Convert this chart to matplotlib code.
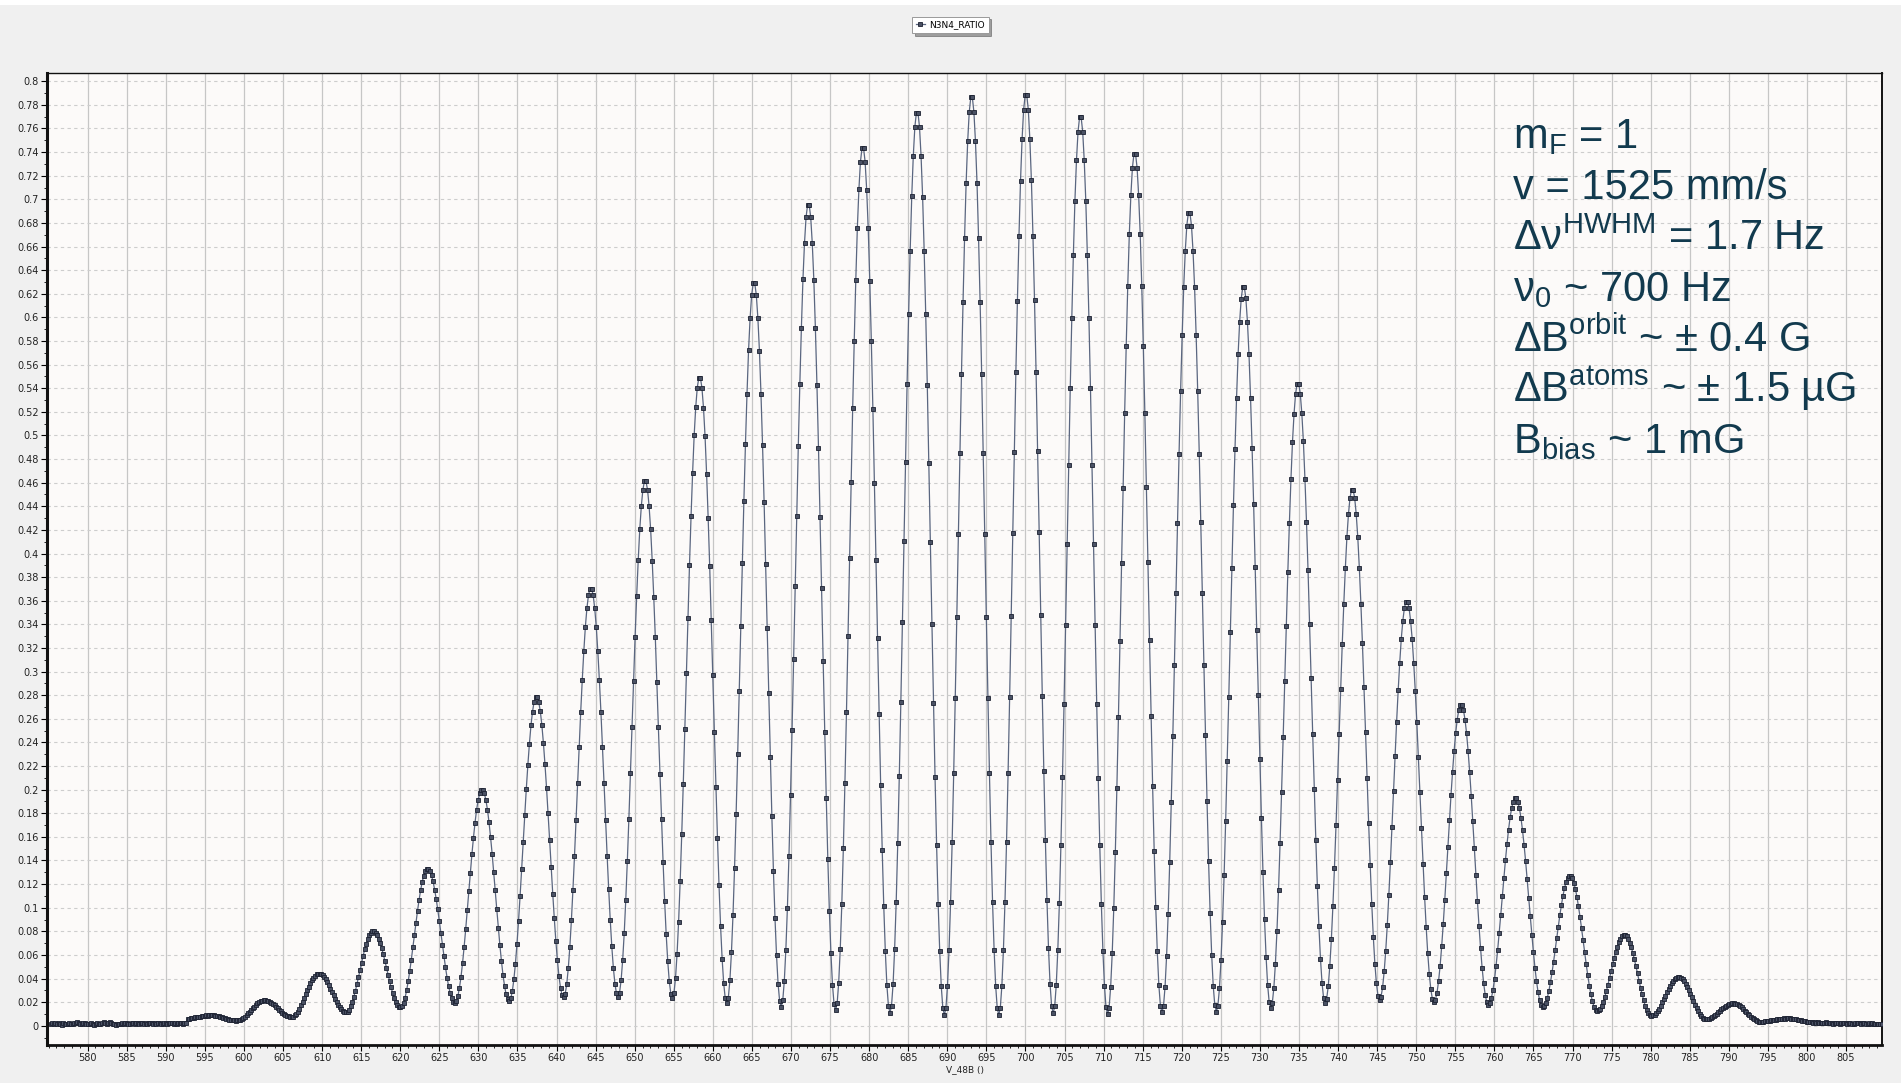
import numpy as np
import matplotlib
matplotlib.use("Agg")
import matplotlib.pyplot as plt
from matplotlib.ticker import MultipleLocator, FixedLocator, FuncFormatter
from matplotlib.patches import Rectangle

# --------- DATOS ---------
# barrido uniforme en frecuencia (Hz)
scan_start = 575.28
scan_step = 0.19886

# linea base antes de las franjas (575 - 592.7 Hz)
ratio_left_tail = [
    0.0018, 0.0022, 0.0012, 0.0020, 0.0015, 0.0024, 0.0017, 0.0010, 0.0021, 0.0016,
    0.0013, 0.0019, 0.0023, 0.0014, 0.0011, 0.0020, 0.0026, 0.0030, 0.0022, 0.0018,
    0.0015, 0.0020, 0.0024, 0.0017, 0.0012, 0.0016, 0.0021, 0.0014, 0.0010, 0.0018,
    0.0023, 0.0019, 0.0013, 0.0022, 0.0028, 0.0020, 0.0016, 0.0024, 0.0031, 0.0025,
    0.0018, 0.0012, 0.0007, 0.0013, 0.0019, 0.0015, 0.0020, 0.0017, 0.0022, 0.0026,
    0.0019, 0.0014, 0.0021, 0.0024, 0.0018, 0.0023, 0.0020, 0.0016, 0.0025, 0.0021,
    0.0017, 0.0022, 0.0019, 0.0024, 0.0027, 0.0020, 0.0015, 0.0021, 0.0018, 0.0023,
    0.0026, 0.0019, 0.0016, 0.0022, 0.0025, 0.0018, 0.0021, 0.0024, 0.0020, 0.0017,
    0.0023, 0.0019, 0.0022, 0.0026, 0.0021, 0.0018, 0.0024, 0.0022,
]

# una fila por franja (de minimo a minimo)
ratio_fringes = [
    [0.0055, 0.0058, 0.0062, 0.0066, 0.0064, 0.0070, 0.0074, 0.0072, 0.0078, 0.0082, 0.0080, 0.0086, 0.0088, 0.0085, 0.0090,
     0.0091, 0.0087, 0.0089, 0.0084, 0.0083, 0.0081, 0.0075, 0.0073, 0.0068, 0.0065, 0.0060, 0.0058, 0.0052, 0.0051, 0.0047, 0.0046, 0.0044],
    [0.0045, 0.0046, 0.0050, 0.0057, 0.0066, 0.0077, 0.0090, 0.0104, 0.0119, 0.0134, 0.0149, 0.0163, 0.0177, 0.0189, 0.0199, 0.0207, 0.0212, 0.0215,
     0.0215, 0.0212, 0.0208, 0.0202, 0.0193, 0.0184, 0.0173, 0.0161, 0.0148, 0.0136, 0.0123, 0.0112, 0.0101, 0.0092, 0.0085, 0.0079, 0.0076],
    [0.0075, 0.0078, 0.0087, 0.0101, 0.0120, 0.0144, 0.0172, 0.0202, 0.0234, 0.0267, 0.0300, 0.0331, 0.0360, 0.0386, 0.0408, 0.0425, 0.0436, 0.0442,
     0.0442, 0.0437, 0.0427, 0.0412, 0.0392, 0.0369, 0.0344, 0.0315, 0.0287, 0.0257, 0.0228, 0.0201, 0.0177, 0.0155, 0.0138, 0.0125, 0.0118],
    [0.0115, 0.0120, 0.0137, 0.0164, 0.0199, 0.0244, 0.0295, 0.0351, 0.0412, 0.0473, 0.0534, 0.0592, 0.0646, 0.0694, 0.0735, 0.0766, 0.0788, 0.0799,
     0.0799, 0.0788, 0.0768, 0.0739, 0.0700, 0.0655, 0.0605, 0.0549, 0.0492, 0.0434, 0.0378, 0.0325, 0.0276, 0.0234, 0.0201, 0.0176, 0.0160],
    [0.0155, 0.0164, 0.0193, 0.0238, 0.0300, 0.0376, 0.0464, 0.0560, 0.0664, 0.0770, 0.0873, 0.0974, 0.1066, 0.1148, 0.1218, 0.1271, 0.1309, 0.1328,
     0.1328, 0.1310, 0.1273, 0.1222, 0.1154, 0.1075, 0.0986, 0.0888, 0.0789, 0.0686, 0.0587, 0.0494, 0.0408, 0.0335, 0.0276, 0.0231, 0.0204],
    [0.0195, 0.0209, 0.0253, 0.0323, 0.0417, 0.0534, 0.0670, 0.0818, 0.0977, 0.1139, 0.1298, 0.1453, 0.1594, 0.1720, 0.1829, 0.1910, 0.1968, 0.1996,
     0.1996, 0.1968, 0.1911, 0.1830, 0.1723, 0.1597, 0.1458, 0.1304, 0.1146, 0.0985, 0.0828, 0.0681, 0.0547, 0.0430, 0.0337, 0.0267, 0.0224],
    [0.0210, 0.0231, 0.0293, 0.0393, 0.0527, 0.0695, 0.0889, 0.1100, 0.1327, 0.1559, 0.1786, 0.2008, 0.2210, 0.2390, 0.2545, 0.2661, 0.2744, 0.2785,
     0.2785, 0.2744, 0.2663, 0.2548, 0.2395, 0.2216, 0.2017, 0.1798, 0.1574, 0.1344, 0.1120, 0.0911, 0.0719, 0.0554, 0.0421, 0.0322, 0.0260],
    [0.0240, 0.0268, 0.0351, 0.0486, 0.0667, 0.0892, 0.1153, 0.1437, 0.1743, 0.2055, 0.2360, 0.2659, 0.2929, 0.3172, 0.3380, 0.3537, 0.3648, 0.3703,
     0.3703, 0.3648, 0.3537, 0.3381, 0.3173, 0.2931, 0.2660, 0.2363, 0.2058, 0.1746, 0.1441, 0.1157, 0.0897, 0.0672, 0.0492, 0.0357, 0.0274],
    [0.0246, 0.0281, 0.0386, 0.0557, 0.0784, 0.1068, 0.1396, 0.1755, 0.2140, 0.2534, 0.2919, 0.3295, 0.3636, 0.3942, 0.4204, 0.4401, 0.4541, 0.4611,
     0.4611, 0.4541, 0.4401, 0.4204, 0.3940, 0.3633, 0.3291, 0.2914, 0.2528, 0.2134, 0.1748, 0.1388, 0.1059, 0.0774, 0.0546, 0.0375, 0.0270],
    [0.0235, 0.0277, 0.0403, 0.0609, 0.0883, 0.1225, 0.1620, 0.2051, 0.2515, 0.2989, 0.3452, 0.3905, 0.4315, 0.4684, 0.5000, 0.5237, 0.5405, 0.5489,
     0.5489, 0.5404, 0.5235, 0.4996, 0.4677, 0.4305, 0.3891, 0.3434, 0.2967, 0.2489, 0.2022, 0.1587, 0.1188, 0.0843, 0.0567, 0.0360, 0.0232],
    [0.0190, 0.0239, 0.0386, 0.0624, 0.0942, 0.1339, 0.1797, 0.2298, 0.2836, 0.3386, 0.3923, 0.4449, 0.4925, 0.5353, 0.5720, 0.5995, 0.6190, 0.6288,
     0.6288, 0.6189, 0.5993, 0.5717, 0.5348, 0.4919, 0.4440, 0.3912, 0.3371, 0.2819, 0.2278, 0.1775, 0.1314, 0.0915, 0.0596, 0.0356, 0.0209],
    [0.0160, 0.0214, 0.0378, 0.0644, 0.0998, 0.1440, 0.1951, 0.2509, 0.3109, 0.3722, 0.4321, 0.4907, 0.5438, 0.5914, 0.6323, 0.6630, 0.6847, 0.6956,
     0.6956, 0.6847, 0.6628, 0.6320, 0.5910, 0.5431, 0.4897, 0.4309, 0.3707, 0.3092, 0.2490, 0.1929, 0.1416, 0.0971, 0.0616, 0.0349, 0.0185],
    [0.0130, 0.0189, 0.0364, 0.0650, 0.1030, 0.1506, 0.2055, 0.2655, 0.3300, 0.3958, 0.4603, 0.5232, 0.5803, 0.6315, 0.6755, 0.7084, 0.7318, 0.7435,
     0.7435, 0.7318, 0.7083, 0.6753, 0.6312, 0.5799, 0.5226, 0.4595, 0.3949, 0.3288, 0.2642, 0.2040, 0.1490, 0.1013, 0.0631, 0.0345, 0.0169],
    [0.0110, 0.0171, 0.0354, 0.0652, 0.1050, 0.1546, 0.2119, 0.2746, 0.3418, 0.4106, 0.4778, 0.5435, 0.6031, 0.6566, 0.7024, 0.7368, 0.7612, 0.7735,
     0.7735, 0.7612, 0.7367, 0.7022, 0.6563, 0.6027, 0.5429, 0.4770, 0.4096, 0.3407, 0.2733, 0.2105, 0.1530, 0.1032, 0.0634, 0.0335, 0.0151],
    [0.0090, 0.0152, 0.0339, 0.0643, 0.1048, 0.1555, 0.2139, 0.2778, 0.3463, 0.4164, 0.4850, 0.5520, 0.6127, 0.6673, 0.7140, 0.7491, 0.7740, 0.7864,
     0.7864, 0.7740, 0.7491, 0.7140, 0.6673, 0.6127, 0.5520, 0.4850, 0.4164, 0.3463, 0.2778, 0.2139, 0.1555, 0.1048, 0.0643, 0.0339, 0.0152],
    [0.0090, 0.0152, 0.0340, 0.0645, 0.1051, 0.1558, 0.2144, 0.2784, 0.3472, 0.4175, 0.4862, 0.5534, 0.6143, 0.6689, 0.7158, 0.7510, 0.7759, 0.7884,
     0.7884, 0.7760, 0.7510, 0.7160, 0.6692, 0.6146, 0.5538, 0.4868, 0.4182, 0.3480, 0.2794, 0.2155, 0.1570, 0.1064, 0.0658, 0.0354, 0.0167],
    [0.0105, 0.0166, 0.0348, 0.0645, 0.1040, 0.1535, 0.2105, 0.2729, 0.3398, 0.4082, 0.4752, 0.5406, 0.5999, 0.6531, 0.6988, 0.7330, 0.7573, 0.7695,
     0.7695, 0.7573, 0.7329, 0.6987, 0.6529, 0.5997, 0.5403, 0.4748, 0.4078, 0.3393, 0.2723, 0.2098, 0.1527, 0.1033, 0.0637, 0.0340, 0.0157],
    [0.0096, 0.0154, 0.0330, 0.0615, 0.0994, 0.1469, 0.2017, 0.2616, 0.3259, 0.3916, 0.4559, 0.5187, 0.5757, 0.6268, 0.6706, 0.7035, 0.7269, 0.7385,
     0.7385, 0.7269, 0.7036, 0.6708, 0.6270, 0.5760, 0.5192, 0.4565, 0.3924, 0.3268, 0.2627, 0.2029, 0.1483, 0.1009, 0.0630, 0.0346, 0.0171],
    [0.0113, 0.0167, 0.0330, 0.0595, 0.0948, 0.1389, 0.1898, 0.2455, 0.3052, 0.3663, 0.4260, 0.4843, 0.5373, 0.5847, 0.6255, 0.6561, 0.6778, 0.6886,
     0.6886, 0.6778, 0.6561, 0.6256, 0.5849, 0.5375, 0.4846, 0.4263, 0.3666, 0.3056, 0.2459, 0.1903, 0.1395, 0.0954, 0.0601, 0.0337, 0.0174],
    [0.0120, 0.0169, 0.0317, 0.0557, 0.0876, 0.1276, 0.1737, 0.2242, 0.2783, 0.3336, 0.3878, 0.4407, 0.4886, 0.5317, 0.5686, 0.5963, 0.6159, 0.6258,
     0.6258, 0.6160, 0.5964, 0.5689, 0.5321, 0.4893, 0.4416, 0.3889, 0.3351, 0.2800, 0.2261, 0.1760, 0.1301, 0.0903, 0.0585, 0.0346, 0.0199],
    [0.0150, 0.0192, 0.0320, 0.0526, 0.0802, 0.1146, 0.1544, 0.1979, 0.2445, 0.2922, 0.3388, 0.3844, 0.4258, 0.4629, 0.4947, 0.5185, 0.5355, 0.5439,
     0.5439, 0.5355, 0.5187, 0.4951, 0.4635, 0.4268, 0.3858, 0.3406, 0.2943, 0.2470, 0.2008, 0.1577, 0.1183, 0.0841, 0.0568, 0.0363, 0.0237],
    [0.0195, 0.0230, 0.0334, 0.0504, 0.0731, 0.1014, 0.1340, 0.1697, 0.2081, 0.2473, 0.2856, 0.3230, 0.3570, 0.3875, 0.4136, 0.4332, 0.4472, 0.4541,
     0.4541, 0.4472, 0.4334, 0.4139, 0.3879, 0.3576, 0.3238, 0.2866, 0.2485, 0.2095, 0.1714, 0.1359, 0.1034, 0.0753, 0.0527, 0.0359, 0.0255],
    [0.0220, 0.0247, 0.0328, 0.0460, 0.0636, 0.0855, 0.1109, 0.1386, 0.1684, 0.1988, 0.2285, 0.2576, 0.2840, 0.3076, 0.3279, 0.3431, 0.3539, 0.3593,
     0.3593, 0.3539, 0.3430, 0.3277, 0.3073, 0.2835, 0.2570, 0.2277, 0.1978, 0.1672, 0.1373, 0.1094, 0.0839, 0.0618, 0.0441, 0.0309, 0.0227],
    [0.0200, 0.0220, 0.0281, 0.0379, 0.0510, 0.0674, 0.0863, 0.1069, 0.1291, 0.1518, 0.1740, 0.1956, 0.2153, 0.2329, 0.2481, 0.2594, 0.2675, 0.2715,
     0.2715, 0.2674, 0.2593, 0.2479, 0.2326, 0.2149, 0.1950, 0.1732, 0.1508, 0.1280, 0.1056, 0.0848, 0.0658, 0.0492, 0.0360, 0.0261, 0.0200],
    [0.0180, 0.0194, 0.0236, 0.0304, 0.0395, 0.0509, 0.0640, 0.0784, 0.0938, 0.1095, 0.1249, 0.1400, 0.1536, 0.1659, 0.1764, 0.1843, 0.1899, 0.1927,
     0.1926, 0.1898, 0.1842, 0.1762, 0.1656, 0.1532, 0.1394, 0.1241, 0.1086, 0.0926, 0.0771, 0.0626, 0.0493, 0.0378, 0.0286, 0.0217, 0.0174],
    [0.0160, 0.0169, 0.0196, 0.0239, 0.0297, 0.0369, 0.0452, 0.0543, 0.0641, 0.0741, 0.0838, 0.0934, 0.1020, 0.1098, 0.1165, 0.1215, 0.1250, 0.1268,
     0.1268, 0.1249, 0.1213, 0.1161, 0.1093, 0.1012, 0.0923, 0.0825, 0.0724, 0.0621, 0.0520, 0.0426, 0.0340, 0.0266, 0.0206, 0.0162, 0.0134],
    [0.0125, 0.0130, 0.0146, 0.0171, 0.0204, 0.0246, 0.0295, 0.0348, 0.0404, 0.0462, 0.0519, 0.0575, 0.0625, 0.0670, 0.0709, 0.0738, 0.0758, 0.0769,
     0.0769, 0.0758, 0.0736, 0.0705, 0.0664, 0.0616, 0.0562, 0.0504, 0.0443, 0.0382, 0.0321, 0.0265, 0.0214, 0.0169, 0.0134, 0.0107, 0.0090],
    [0.0085, 0.0088, 0.0095, 0.0108, 0.0125, 0.0146, 0.0170, 0.0197, 0.0226, 0.0255, 0.0284, 0.0312, 0.0337, 0.0360, 0.0379, 0.0394, 0.0404, 0.0409,
     0.0409, 0.0404, 0.0392, 0.0376, 0.0355, 0.0331, 0.0303, 0.0273, 0.0242, 0.0210, 0.0179, 0.0150, 0.0123, 0.0100, 0.0082, 0.0068, 0.0060],
    [0.0057, 0.0058, 0.0061, 0.0066, 0.0073, 0.0082, 0.0092, 0.0103, 0.0115, 0.0127, 0.0138, 0.0150, 0.0160, 0.0169, 0.0177, 0.0183, 0.0188, 0.0190,
     0.0190, 0.0187, 0.0182, 0.0175, 0.0166, 0.0155, 0.0143, 0.0129, 0.0116, 0.0102, 0.0088, 0.0075, 0.0063, 0.0053, 0.0045, 0.0039, 0.0035],
    [0.0034, 0.0036, 0.0033, 0.0037, 0.0038, 0.0041, 0.0040, 0.0045, 0.0046, 0.0050, 0.0051, 0.0055, 0.0054, 0.0060, 0.0058, 0.0063, 0.0061, 0.0064,
     0.0062, 0.0065, 0.0060, 0.0061, 0.0057, 0.0056, 0.0050, 0.0051, 0.0045, 0.0044, 0.0038, 0.0039, 0.0033, 0.0034, 0.0029, 0.0031, 0.0027],
]

# linea base despues de las franjas (801 - 809.5 Hz)
ratio_right_tail = [
    0.0028, 0.0025, 0.0030, 0.0026, 0.0022, 0.0027, 0.0024, 0.0029, 0.0023, 0.0021,
    0.0026, 0.0022, 0.0019, 0.0024, 0.0027, 0.0021, 0.0018, 0.0023, 0.0020, 0.0025,
    0.0022, 0.0017, 0.0021, 0.0024, 0.0019, 0.0016, 0.0022, 0.0026, 0.0020, 0.0023,
    0.0018, 0.0021, 0.0025, 0.0019, 0.0016, 0.0020, 0.0018, 0.0022, 0.0017, 0.0019,
    0.0015, 0.0018, 0.0016, 0.0014,
]

x_ticks = list(range(580, 806, 5))
series_name = "N3N4_RATIO"
x_label = "V_48B ()"
info_lines = [
    r"m$_{F}$ = 1",
    r"v = 1525 mm/s",
    r"$\Delta\nu^{HWHM}$ = 1.7 Hz",
    r"$\nu_{0}$ ~ 700 Hz",
    r"$\Delta$B$^{orbit}$ ~ $\pm$ 0.4 G",
    r"$\Delta$B$^{atoms}$ ~ $\pm$ 1.5 µG",
    r"B$_{bias}$ ~ 1 mG",
]

# --------- CONSTRUCCION DE LA SERIE ---------
ratio = list(ratio_left_tail)
for fila in ratio_fringes:
    ratio.extend(fila)
ratio.extend(ratio_right_tail)
ratio = np.array(ratio)
freq = scan_start + scan_step * np.arange(len(ratio))

# --------- FIGURA ---------
plt.rcParams["mathtext.fontset"] = "custom"
plt.rcParams["mathtext.rm"] = "Liberation Sans"
plt.rcParams["mathtext.it"] = "Liberation Sans"
plt.rcParams["mathtext.default"] = "regular"

W, H = 1901, 1083
fig = plt.figure(figsize=(W / 100, H / 100), dpi=100, facecolor="#f0f0f0")
fig.patches.append(Rectangle((0, 1 - 5 / H), 1, 5 / H, transform=fig.transFigure,
                             facecolor="white", edgecolor="none", zorder=0))

ax = fig.add_axes([47 / W, 1 - 1045 / H, (1882 - 47) / W, (1045 - 73) / H])
ax.set_facecolor("#fcfaf9")

linea, = ax.plot(freq, ratio, color="#5a6680", lw=0.9, marker="s", ms=3.4,
                 mfc="#4a5164", mec="#1c2131", mew=0.6, zorder=3)

ax.set_xlim(574.8, 809.6)
ax.set_ylim(-0.0163, 0.807)

ax.xaxis.set_major_locator(FixedLocator(x_ticks))
ax.xaxis.set_minor_locator(MultipleLocator(1))
ax.yaxis.set_major_locator(MultipleLocator(0.02))
ax.yaxis.set_minor_locator(MultipleLocator(0.01))
ax.yaxis.set_major_formatter(FuncFormatter(lambda v, p: f"{round(v, 2):g}"))

ax.tick_params(axis="both", which="major", direction="out", length=4, width=0.8,
               labelsize=7, colors="black", pad=2)
ax.tick_params(axis="both", which="minor", direction="out", length=2, width=0.6)
for lab in ax.get_xticklabels() + ax.get_yticklabels():
    lab.set_color("#222222")

ax.grid(True, axis="x", which="major", color="#c6c6c6", lw=0.9, ls="-", zorder=0)
ax.grid(True, axis="y", which="major", color="#cdcdcd", lw=0.8, ls=(0, (3, 3)), zorder=0)
ax.set_axisbelow(True)

for lado, grosor in [("left", 2.2), ("bottom", 2.0), ("top", 1.0), ("right", 1.4)]:
    ax.spines[lado].set_linewidth(grosor)
    ax.spines[lado].set_color("#111111")

ax.set_xlabel(x_label, fontsize=6.5, labelpad=1, color="#222222")

leg = fig.legend([linea], [series_name], loc="upper center",
                 bbox_to_anchor=(0.5, 1 - 12 / H), fontsize=6.5, frameon=True,
                 fancybox=False, shadow=True, handlelength=1.0, handletextpad=0.5,
                 borderpad=0.4, markerscale=0.8)
leg.get_frame().set_edgecolor("#9a9a9a")
leg.get_frame().set_linewidth(0.7)

# texto informativo
baselines = [148, 199, 250, 301, 352, 402, 453]
for texto, yb in zip(info_lines, baselines):
    fig.text(1513 / W, 1 - yb / H, texto, fontsize=30, color="#123a4e",
             family="Liberation Sans", va="baseline", ha="left")

fig.savefig("out.png", dpi=100, facecolor=fig.get_facecolor())
